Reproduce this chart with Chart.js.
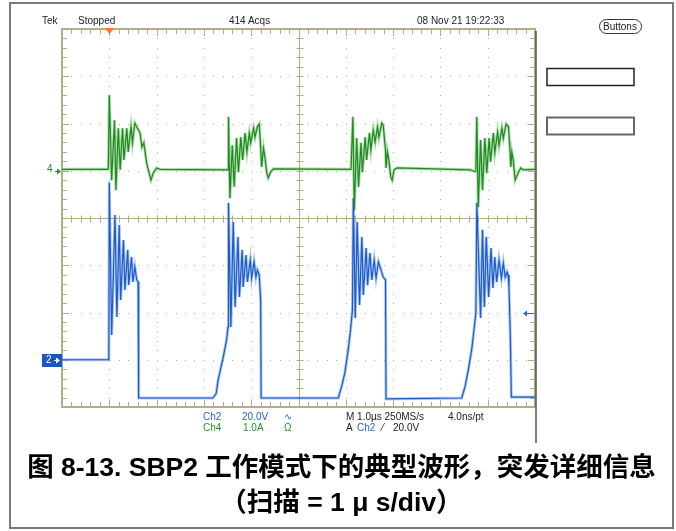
<!DOCTYPE html>
<html>
<head>
<meta charset="utf-8">
<script src="https://cdn.jsdelivr.net/npm/chart.js@4.4.1/dist/chart.umd.min.js"></script>
<style>
body { margin: 0; background: #fff; }
#pagina { position: relative; width: 676px; height: 531px; overflow: hidden; }
#grafica { position: absolute; left: 0; top: 0; }
.t { position: absolute; font-family: "Liberation Sans", Arial, sans-serif; font-size: 10px; line-height: 12px; white-space: nowrap; color: #222; }
.azul { color: #2a62cc; }
.verde { color: #2a8f2a; }
.blanco { color: #fff; }
.cap { position: absolute; left: 10px; width: 663px; text-align: center; font-family: "Liberation Sans", "Noto Sans CJK SC", sans-serif; font-weight: bold; font-size: 26.5px; line-height: 32px; color: #000; white-space: nowrap; }
</style>
</head>
<body>
<div id="pagina">
  <canvas id="grafica" width="676" height="531"></canvas>

  <div class="t" style="left:42px; top:15px;">Tek</div>
  <div class="t" style="left:78px; top:15px;">Stopped</div>
  <div class="t" style="left:229px; top:15px;">414 Acqs</div>
  <div class="t" style="left:417px; top:15px;">08 Nov 21 19:22:33</div>
  <div class="t" style="left:603px; top:21px;">Buttons</div>

  <div class="t verde" style="left:47px; top:163px;">4</div>
  <div class="t blanco" style="left:46px; top:354px;">2</div>

  <div class="t azul" style="left:203px; top:411px;">Ch2</div>
  <div class="t azul" style="left:242px; top:411px;">20.0V</div>
  <div class="t azul" style="left:284px; top:411px;">∿</div>
  <div class="t" style="left:346px; top:411px;">M 1.0µs 250MS/s</div>
  <div class="t" style="left:448px; top:411px;">4.0ns/pt</div>

  <div class="t verde" style="left:203px; top:422px;">Ch4</div>
  <div class="t verde" style="left:243px; top:422px;">1.0A</div>
  <div class="t verde" style="left:284px; top:422px;">Ω</div>
  <div class="t" style="left:346px; top:422px;">A</div>
  <div class="t azul" style="left:357px; top:422px;">Ch2</div>
  <div class="t" style="left:382px; top:422px;">⁄</div>
  <div class="t" style="left:393px; top:422px;">20.0V</div>

  <div class="cap" style="top:451px;">图 8-13. SBP2 工作模式下的典型波形，突发详细信息</div>
  <div class="cap" style="top:486px;">（扫描 = 1 μ s/div）</div>
</div>

<script>
// Ch2 (tension, 20 V/div) - tiempo en us, trigger en 0
const ch2TimeUs = [-1.00, -0.01, 0.00, 0.05, 0.12, 0.16, 0.21, 0.24, 0.30, 0.33, 0.39, 0.41, 0.47, 0.50, 0.54, 0.58, 0.61, 0.62,
  2.19, 2.26, 2.30, 2.41, 2.48, 2.51, 2.52, 2.57, 2.62, 2.66, 2.72, 2.75, 2.81, 2.83, 2.89, 2.92, 2.98, 3.01, 3.06, 3.10, 3.13, 3.17, 3.20, 3.21,
  4.84, 4.91, 4.98, 5.05, 5.10, 5.14, 5.16, 5.20, 5.24, 5.29, 5.34, 5.37, 5.43, 5.46, 5.51, 5.55, 5.60, 5.64, 5.69, 5.76, 5.79, 5.84, 5.85,
  7.45, 7.52, 7.59, 7.66, 7.71, 7.75, 7.77, 7.85, 7.89, 7.93, 7.97, 8.02, 8.07, 8.11, 8.15, 8.19, 8.24, 8.29, 8.33, 8.37, 8.41, 8.43, 8.45, 8.48, 8.50, 9.00];
const ch2Volts = [0, 0, 75, 10.5, 61.3, 18.1, 57.0, 25.3, 50.7, 29.5, 46.5, 31.6, 43.5, 32.9, 39.3, 33.8, 32.9, -16.2,
  -16.2, -14.3, -8.6, 1.2, 8.4, 13.9, 66.4, 13.9, 58.3, 22.3, 52.0, 26.6, 46.5, 30.8, 44.3, 32.9, 42.2, 34.6, 41.4, 35.0, 38.0, 35.9, 25.3, -16.2,
  -16.2, -11.5, -5.6, 4.1, 12.6, 21.1, 68.5, 17.7, 58.3, 23.2, 52.0, 27.4, 47.3, 31.6, 45.2, 33.8, 42.2, 34.6, 41.4, 37.1, 35.0, 33.8, -16.6,
  -16.2, -11.5, -4.3, 4.1, 12.6, 19.8, 66.4, 17.7, 55.0, 22.3, 52.0, 26.6, 47.3, 30.4, 43.5, 32.9, 42.2, 34.6, 40.9, 35.0, 37.1, 35.9, 30.8, 8.4, -15.8, -15.8];

// Ch4 (corriente, 1 A/div)
const ch4TimeUs = [-1.00, -0.03, -0.02, 0.00, 0.05, 0.11, 0.14, 0.19, 0.23, 0.28, 0.31, 0.37, 0.40, 0.46, 0.49, 0.54, 0.58, 0.65, 0.69, 0.73, 0.79, 0.88, 0.93, 1.00, 1.07,
  2.47, 2.51, 2.52, 2.55, 2.60, 2.64, 2.69, 2.73, 2.78, 2.82, 2.87, 2.91, 2.96, 2.99, 3.05, 3.08, 3.13, 3.17, 3.20, 3.22, 3.26, 3.29, 3.33, 3.36, 3.41, 3.47,
  5.11, 5.13, 5.15, 5.18, 5.23, 5.27, 5.32, 5.35, 5.41, 5.44, 5.50, 5.53, 5.58, 5.62, 5.67, 5.70, 5.76, 5.79, 5.84, 5.85, 5.88, 5.91, 5.95, 5.98, 6.02, 6.08,
  7.63, 7.73, 7.75, 7.77, 7.80, 7.85, 7.89, 7.94, 7.98, 8.03, 8.06, 8.12, 8.15, 8.21, 8.24, 8.30, 8.33, 8.39, 8.44, 8.47, 8.49, 8.51, 8.54, 8.58, 8.61, 8.65, 8.70, 8.75, 9.00];
const ch4Amps = [0.03, 0.03, 0.04, 1.60, -0.20, 1.07, -0.41, 0.90, 0.02, 0.90, 0.23, 0.90, 0.40, 0.93, 0.59, 1.01, 0.93, 0.80, 0.50, 0.59, 0.16, -0.20, -0.05, 0.06, 0.03,
  0.02, 0.02, 1.14, -0.58, 0.54, -0.34, 0.69, -0.03, 0.71, 0.23, 0.80, 0.40, 0.80, 0.59, 0.90, 0.71, 0.93, 0.99, 0.50, 0.08, 0.48, 0.29, -0.05, -0.15, -0.03, 0.04,
  0.03, 0.03, 1.14, -0.83, 0.69, -0.34, 0.59, -0.03, 0.71, 0.23, 0.80, 0.44, 0.86, 0.61, 0.93, 0.71, 1.01, 0.97, 0.44, 0.06, 0.40, 0.23, -0.13, -0.20, 0.02, 0.06,
  0.02, -0.02, -0.01, 1.14, -0.77, 0.65, -0.41, 0.69, -0.05, 0.69, 0.19, 0.80, 0.38, 0.82, 0.54, 0.90, 0.69, 0.99, 0.93, 0.44, 0.08, 0.40, 0.23, -0.20, -0.13, -0.03, 0.06, 0.02, 0.03];

// escala de la pantalla: 10 div horizontales, 8 verticales
const timeRange = [-1, 9];        // 1 us/div
const ch2Range = [-20, 140];      // 20 V/div, tierra a 1 div del fondo
const ch4Range = [-5, 3];         // 1 A/div, tierra a 5 div del fondo
const triggerLevelV = 20;

const TAN = '#b6ad86';

function puntos(xs, ys) {
  return xs.map((x, i) => ({ x: x, y: ys[i] }));
}

function flecha(ctx, x1, x2, y, color) {
  // flecha horizontal, la punta en x2
  const d = x2 > x1 ? 1 : -1;
  ctx.strokeStyle = color;
  ctx.fillStyle = color;
  ctx.lineWidth = 1;
  ctx.beginPath();
  ctx.moveTo(x1, y + 0.5);
  ctx.lineTo(x2 - d * 3, y + 0.5);
  ctx.stroke();
  ctx.beginPath();
  ctx.moveTo(x2, y + 0.5);
  ctx.lineTo(x2 - d * 4, y - 2.5);
  ctx.lineTo(x2 - d * 4, y + 3.5);
  ctx.closePath();
  ctx.fill();
}

// reticula tipo osciloscopio
const pluginReticula = {
  id: 'reticula',
  beforeDatasetsDraw(chart) {
    const ctx = chart.ctx;
    const a = chart.chartArea;
    const dx = (a.right - a.left) / 10;
    const dy = (a.bottom - a.top) / 8;
    const cx = Math.round(a.left + 5 * dx) + 0.5;
    const cy = Math.round(a.top + 4 * dy) + 0.5;
    ctx.save();

    // puntos de las divisiones
    ctx.fillStyle = '#ababab';
    for (let i = 1; i < 10; i++) {
      if (i === 5) continue;
      const x = Math.round(a.left + i * dx);
      for (let j = 1; j < 40; j++) ctx.fillRect(x, Math.round(a.top + j * dy / 5), 1, 1);
    }
    for (let k = 1; k < 8; k++) {
      if (k === 4) continue;
      const y = Math.round(a.top + k * dy);
      for (let j = 1; j < 50; j++) ctx.fillRect(Math.round(a.left + j * dx / 5), y, 1, 1);
    }

    ctx.strokeStyle = TAN;
    ctx.lineWidth = 1;
    ctx.beginPath();
    // ejes centrales con marcas
    ctx.moveTo(cx, a.top); ctx.lineTo(cx, a.bottom);
    ctx.moveTo(a.left, cy); ctx.lineTo(a.right, cy);
    for (let j = 1; j < 40; j++) {
      const y = Math.round(a.top + j * dy / 5) + 0.5;
      ctx.moveTo(cx - 3, y); ctx.lineTo(cx + 4, y);
    }
    for (let j = 1; j < 50; j++) {
      const x = Math.round(a.left + j * dx / 5) + 0.5;
      ctx.moveTo(x, cy - 3); ctx.lineTo(x, cy + 4);
    }
    // marcas del borde
    for (let j = 1; j < 50; j++) {
      const x = Math.round(a.left + j * dx / 5) + 0.5;
      const l = j % 5 === 0 ? 7 : 5;
      ctx.moveTo(x, a.top); ctx.lineTo(x, a.top + l);
      ctx.moveTo(x, a.bottom); ctx.lineTo(x, a.bottom - l);
    }
    for (let j = 1; j < 40; j++) {
      const y = Math.round(a.top + j * dy / 5) + 0.5;
      const l = j % 5 === 0 ? 7 : 5;
      ctx.moveTo(a.left, y); ctx.lineTo(a.left + l, y);
      ctx.moveTo(a.right, y); ctx.lineTo(a.right - l, y);
    }
    ctx.stroke();

    ctx.lineWidth = 2;
    ctx.strokeRect(a.left, a.top, a.right - a.left, a.bottom - a.top);
    ctx.restore();
  },
  afterDraw(chart) {
    const ctx = chart.ctx;
    const a = chart.chartArea;
    const sx = chart.scales.x;
    const y2 = chart.scales.yV;
    const y4 = chart.scales.yA;
    ctx.save();

    // posicion del trigger (triangulo naranja)
    const tx = Math.round(sx.getPixelForValue(0)) + 0.5;
    ctx.fillStyle = '#ff7a2e';
    ctx.beginPath();
    ctx.moveTo(tx - 5, a.top - 1);
    ctx.lineTo(tx + 5, a.top - 1);
    ctx.lineTo(tx, a.top + 5);
    ctx.closePath();
    ctx.fill();

    // marcador de tierra Ch4
    const g4 = Math.round(y4.getPixelForValue(0));
    flecha(ctx, 55, 61, g4, '#2a8f2a');

    // marcador de tierra Ch2 (caja azul)
    const g2 = Math.round(y2.getPixelForValue(0));
    ctx.fillStyle = '#1b56c2';
    ctx.fillRect(42, g2 - 6, 20, 13);
    flecha(ctx, 54, 60, g2, '#ffffff');

    // nivel de trigger a la derecha
    const tl = Math.round(y2.getPixelForValue(triggerLevelV));
    flecha(ctx, a.right - 1, a.right - 12, tl, '#2a62cc');

    // linea derecha de la pantalla
    ctx.strokeStyle = '#555';
    ctx.lineWidth = 1.5;
    ctx.beginPath();
    ctx.moveTo(a.right + 1, a.top + 2);
    ctx.lineTo(a.right + 1, 443);
    ctx.stroke();

    // cajas del menu lateral
    ctx.lineWidth = 1.5;
    ctx.strokeStyle = '#222';
    ctx.strokeRect(547, 68.5, 87, 17);
    ctx.strokeStyle = '#666';
    ctx.lineWidth = 2;
    ctx.strokeRect(547, 117.5, 87, 17);

    // boton "Buttons"
    ctx.strokeStyle = '#333';
    ctx.lineWidth = 1;
    ctx.beginPath();
    ctx.roundRect(599.5, 19.5, 42, 14, 7);
    ctx.stroke();

    // marco gris de la figura
    ctx.strokeStyle = '#7a7a7a';
    ctx.lineWidth = 2;
    ctx.strokeRect(10, 3, 663, 525);
    ctx.restore();
  }
};

const ctx = document.getElementById('grafica').getContext('2d');
new Chart(ctx, {
  type: 'line',
  data: {
    datasets: [
      {
        label: 'Ch4',
        data: puntos(ch4TimeUs, ch4Amps),
        yAxisID: 'yA',
        borderColor: '#1f8a1f',
        borderWidth: 1.2,
        pointRadius: 0,
        tension: 0
      },
      {
        label: 'Ch2',
        data: puntos(ch2TimeUs, ch2Volts),
        yAxisID: 'yV',
        borderColor: '#1c5bc9',
        borderWidth: 1.2,
        pointRadius: 0,
        tension: 0
      },
      // brillo de persistencia (mismos datos, trazo claro y ancho debajo)
      {
        label: 'Ch4 brillo',
        data: puntos(ch4TimeUs, ch4Amps),
        yAxisID: 'yA',
        borderColor: 'rgba(110, 190, 110, 0.55)',
        borderWidth: 3,
        pointRadius: 0,
        tension: 0
      },
      {
        label: 'Ch2 brillo',
        data: puntos(ch2TimeUs, ch2Volts),
        yAxisID: 'yV',
        borderColor: 'rgba(110, 155, 225, 0.55)',
        borderWidth: 3,
        pointRadius: 0,
        tension: 0
      }
    ]
  },
  options: {
    responsive: false,
    animation: false,
    layout: { padding: { left: 62, top: 29, right: 141, bottom: 124 } },
    scales: {
      x: { type: 'linear', min: timeRange[0], max: timeRange[1], display: false },
      yV: { type: 'linear', min: ch2Range[0], max: ch2Range[1], display: false },
      yA: { type: 'linear', min: ch4Range[0], max: ch4Range[1], display: false }
    },
    plugins: {
      legend: { display: false },
      tooltip: { enabled: false }
    }
  },
  plugins: [pluginReticula]
});
</script>
</body>
</html>
